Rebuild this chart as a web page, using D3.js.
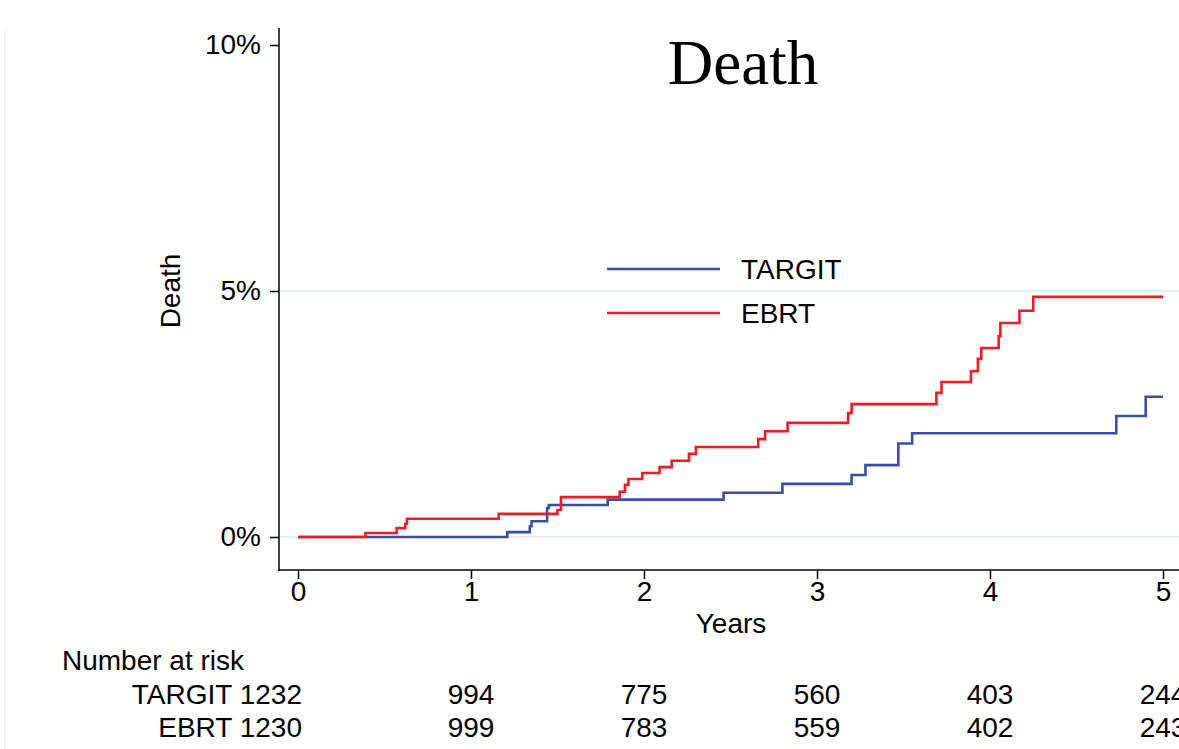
<!DOCTYPE html>
<html>
<head>
<meta charset="utf-8">
<script src="https://cdn.jsdelivr.net/npm/d3@7"></script>
<style>
  body { margin: 0; background: #fff; }
  svg { display: block; font-family: "Liberation Sans", Arial, sans-serif; }
  .axis text { font-size: 28px; fill: #000; font-family: "Liberation Sans", Arial, sans-serif; }
  .axis line { stroke: #000; stroke-width: 1.5; }
</style>
</head>
<body>
<svg width="1179" height="749"></svg>
<script>
// cumulative incidence of death (%) by years
const targitYears = [0, 1.21, 1.34, 1.35, 1.44, 1.45, 1.79, 2.46, 2.80, 3.20, 3.28, 3.47, 3.55, 4.73, 4.90, 5.0]
const targitDeath = [0, 0.10, 0.22, 0.32, 0.59, 0.65, 0.76, 0.90, 1.08, 1.26, 1.46, 1.90, 2.11, 2.46, 2.85, 2.85]

const ebrtYears = [0, 0.39, 0.57, 0.62, 0.63, 1.16, 1.50, 1.52, 1.86, 1.89, 1.91, 1.99, 2.09, 2.16, 2.26, 2.30,
  2.66, 2.70, 2.83, 3.18, 3.20, 3.69, 3.72, 3.89, 3.93, 3.95, 4.05, 4.06, 4.17, 4.25, 5.0]
const ebrtDeath = [0, 0.08, 0.18, 0.27, 0.37, 0.47, 0.55, 0.81, 0.92, 1.06, 1.18, 1.30, 1.42, 1.55, 1.69, 1.83,
  1.99, 2.15, 2.32, 2.52, 2.70, 2.93, 3.15, 3.37, 3.62, 3.84, 4.08, 4.35, 4.60, 4.88, 4.88]

const groups = ["TARGIT", "EBRT"]
const colors = ["#3b4ea6", "#ee1c25"]
const yTicks = [0, 5, 10]
const xTicks = [0, 1, 2, 3, 4, 5]
const riskTargit = [1232, 994, 775, 560, 403, 244]
const riskEbrt = [1230, 999, 783, 559, 402, 243]

const svg = d3.select("svg")

const x = d3.scaleLinear().domain([0, 5]).range([298, 1163])
const y = d3.scaleLinear().domain([0, 10]).range([537, 45])

// faint frame line at the left edge
svg.append("line")
  .attr("x1", 5).attr("x2", 5).attr("y1", 28).attr("y2", 749)
  .attr("stroke", "#eef1f2").attr("stroke-width", 1.5)

// grid lines
svg.append("g")
  .selectAll("line")
  .data([0, 5])
  .join("line")
  .attr("x1", 280).attr("x2", 1179)
  .attr("y1", (d) => y(d)).attr("y2", (d) => y(d))
  .attr("stroke", "#e6eef0").attr("stroke-width", 2)

// y axis
const gy = svg.append("g")
  .attr("class", "axis")
  .attr("transform", "translate(279,0)")
  .call(d3.axisLeft(y).tickValues(yTicks).tickFormat((d) => d + "%").tickSize(9).tickPadding(9))
gy.select(".domain").remove()
gy.append("line").attr("x1", 0).attr("x2", 0).attr("y1", 28).attr("y2", 571)
  .attr("stroke", "#000").attr("stroke-width", 1.5)

// x axis
const gx = svg.append("g")
  .attr("class", "axis")
  .attr("transform", "translate(0,570)")
  .call(d3.axisBottom(x).tickValues(xTicks).tickFormat(d3.format("d")).tickSize(9).tickPadding(2))
gx.select(".domain").remove()
gx.append("line").attr("x1", 278).attr("x2", 1179).attr("y1", 0).attr("y2", 0)
  .attr("stroke", "#000").attr("stroke-width", 1.5)

// axis titles
svg.append("text")
  .attr("x", 731).attr("y", 633)
  .attr("text-anchor", "middle")
  .attr("font-size", 28)
  .text("Years")

svg.append("text")
  .attr("transform", "translate(180,291) rotate(-90)")
  .attr("text-anchor", "middle")
  .attr("font-size", 28)
  .text("Death")

// title
svg.append("text")
  .attr("x", 743).attr("y", 84)
  .attr("text-anchor", "middle")
  .attr("font-family", "'Liberation Serif', 'Times New Roman', serif")
  .attr("font-size", 63)
  .text("Death")

// step curves
const line = d3.line()
  .x((d) => x(d[0]))
  .y((d) => y(d[1]))
  .curve(d3.curveStepAfter)

const series = [
  d3.zip(targitYears, targitDeath),
  d3.zip(ebrtYears, ebrtDeath),
]

svg.append("g")
  .selectAll("path")
  .data(series)
  .join("path")
  .attr("d", line)
  .attr("fill", "none")
  .attr("stroke", (d, i) => colors[i])
  .attr("stroke-width", 2.6)

// legend
const legend = svg.append("g")
groups.forEach((name, i) => {
  const ly = 269 + i * 44
  legend.append("line")
    .attr("x1", 607).attr("x2", 720).attr("y1", ly).attr("y2", ly)
    .attr("stroke", colors[i]).attr("stroke-width", 2.6)
  legend.append("text")
    .attr("x", 741).attr("y", ly + 10)
    .attr("font-size", 28)
    .text(name)
})

// number at risk table
svg.append("text")
  .attr("x", 62).attr("y", 670)
  .attr("font-size", 28)
  .text("Number at risk")

const rows = [riskTargit, riskEbrt]
rows.forEach((vals, r) => {
  const ry = 704 + r * 33
  svg.append("text")
    .attr("x", 302).attr("y", ry)
    .attr("text-anchor", "end")
    .attr("font-size", 28)
    .text(groups[r] + " " + vals[0])
  svg.append("g")
    .selectAll("text")
    .data(vals.slice(1))
    .join("text")
    .attr("x", (d, i) => x(xTicks[i + 1]))
    .attr("y", ry)
    .attr("text-anchor", "middle")
    .attr("font-size", 28)
    .text((d) => d)
})
</script>
</body>
</html>
